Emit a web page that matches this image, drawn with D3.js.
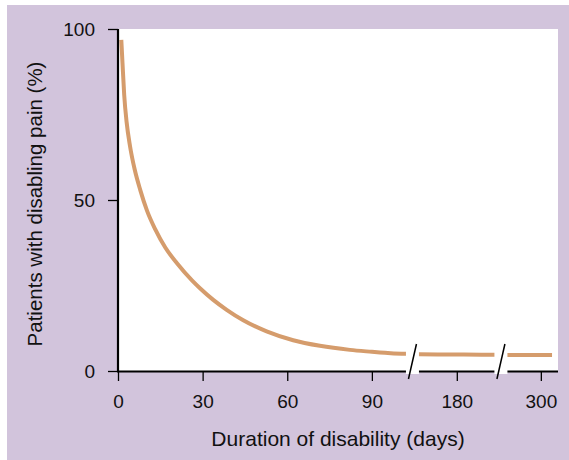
<!DOCTYPE html>
<html>
<head>
<meta charset="utf-8">
<script src="https://cdn.jsdelivr.net/npm/d3@7"></script>
<style>
  html, body { margin: 0; padding: 0; background: #ffffff; }
  svg { display: block; }
  text { font-family: "Liberation Sans", Arial, Helvetica, sans-serif; fill: #111; }
</style>
</head>
<body>
<svg id="chart" width="569" height="460"></svg>
<script>
// ---- data ----
const xTickValues = [0, 30, 60, 90, 180, 300];
const xKnots = [0, 90, 180, 300];          // piecewise (broken) axis knots, days
const yTickValues = [0, 50, 100];
const breakDays = [133, 243];               // where the x axis is broken
const days = [1.17, 1.59, 2.2, 3.05, 4.25, 5.92, 7.9, 10.28, 13.22, 16.76, 20.91, 26.22, 29.06, 33.77, 38.52, 44.4, 52.69, 62.11, 71.58, 82.2, 90, 98.5, 110, 127, 140, 160, 190, 234, 251, 280, 316];
const pain = [96.8, 90.1, 80.7, 72.8, 65.8, 58.9, 52.9, 46.9, 41.4, 36.1, 31.5, 26.5, 24.2, 20.8, 17.9, 14.85, 11.6, 9.0, 7.37, 6.18, 5.6, 5.4, 5.2, 5.02, 4.93, 4.86, 4.8, 4.72, 4.7, 4.67, 4.65];
const xTitle = "Duration of disability (days)";
const yTitle = "Patients with disabling pain (%)";

// ---- layout ----
const W = 569, H = 460;
const plot = { left: 118, right: 558, top: 29, bottom: 371 };
const pw = plot.right - plot.left;
const knotFrac = [0, 0.577, 0.770, 0.961];

const svg = d3.select("#chart");

// background panel
svg.append("rect").attr("x", 7).attr("y", 5).attr("width", W - 7).attr("height", H - 5).attr("fill", "#d2c4dc");
// white plot area
svg.append("rect").attr("x", plot.left).attr("y", plot.top)
  .attr("width", pw).attr("height", plot.bottom - plot.top).attr("fill", "#ffffff");

const x = d3.scaleLinear().domain(xKnots).range(knotFrac.map(f => plot.left + f * pw));
const y = d3.scaleLinear().domain([0, 100]).range([plot.bottom, plot.top]);

// curve
const line = d3.line().x((d, i) => x(days[i])).y(d => y(d)).curve(d3.curveMonotoneX);
svg.append("path").datum(pain).attr("d", line)
  .attr("fill", "none").attr("stroke", "#d59c6c").attr("stroke-width", 4).attr("stroke-linecap", "butt");

// axes
const xAxis = d3.axisBottom(x).tickValues(xTickValues).tickSize(10).tickSizeOuter(0).tickPadding(14).tickFormat(d3.format("d"));
const gx = svg.append("g").attr("transform", `translate(0,${plot.bottom})`).call(xAxis);
const yAxis = d3.axisLeft(y).tickValues(yTickValues).tickSize(10).tickSizeOuter(0).tickPadding(13).tickFormat(d3.format("d"));
const gy = svg.append("g").attr("transform", `translate(${plot.left},0)`).call(yAxis);

[gx, gy].forEach(g => {
  g.select(".domain").attr("stroke", "#000").attr("stroke-width", 2.2);
  g.selectAll(".tick line").attr("stroke", "#000").attr("stroke-width", 1.3);
  g.selectAll(".tick text").attr("font-size", 19).attr("fill", "#111")
    .attr("font-family", '"Liberation Sans", Arial, sans-serif');
});
gx.select(".domain").attr("d", `M${plot.left - 1},0.5H${plot.right}`);
gy.select(".domain").attr("d", `M0,${plot.bottom + 1}V${plot.top}`);

// axis breaks
breakDays.forEach(bd => {
  const cx = x(bd);
  svg.append("rect").attr("x", cx - 6.5).attr("y", plot.bottom - 30)
    .attr("width", 13).attr("height", 33).attr("fill", "#ffffff");
  svg.append("line").attr("x1", cx - 4).attr("y1", plot.bottom + 8)
    .attr("x2", cx + 4).attr("y2", plot.bottom - 27)
    .attr("stroke", "#000").attr("stroke-width", 1.5);
});

// titles
svg.append("text").attr("x", 338).attr("y", 446).attr("text-anchor", "middle")
  .attr("font-size", 21).text(xTitle);
svg.append("text").attr("transform", `translate(42,${(plot.top + plot.bottom) / 2 + 4}) rotate(-90)`)
  .attr("text-anchor", "middle").attr("font-size", 20.5).text(yTitle);
</script>
</body>
</html>
